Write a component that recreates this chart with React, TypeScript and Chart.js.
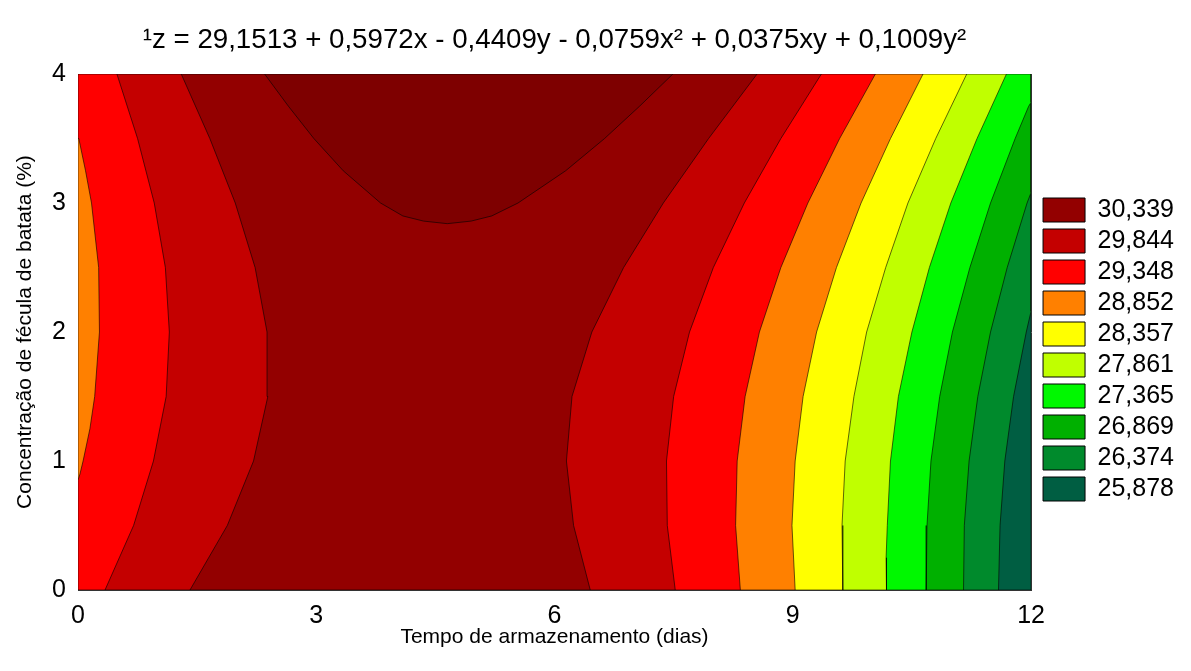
import React, { useEffect, useRef } from 'react';
import { Chart, registerables } from 'chart.js';

Chart.register(...registerables);

const FONT = 'Arial, "Liberation Sans", sans-serif';

const xTicks = [0, 3, 6, 9, 12];
const yTicks = [0, 1, 2, 3, 4];

const titleText = '¹z = 29,1513 + 0,5972x - 0,4409y - 0,0759x² + 0,0375xy + 0,1009y²';
const xTitle = 'Tempo de armazenamento (dias)';
const yTitle = 'Concentração de fécula de batata (%)';

// contour levels (legend) and the colour of the band just below each level
const levelValues = [30.339, 29.844, 29.348, 28.852, 28.357, 27.861, 27.365, 26.869, 26.374, 25.878];
const levelColors = ['#930000', '#C40000', '#FF0000', '#FF8000', '#FFFF00', '#C0FF00', '#00F800', '#00B000', '#008A2C', '#005E42'];
const topBandColor = '#7E0000';

// regions where z is above each level as [x (dias), y (%)]
const above30339 = [[2.35, 4], [2.65, 3.75], [2.97, 3.5], [3.34, 3.25], [3.81, 3.0], [4.09, 2.9], [4.35, 2.86], [4.65, 2.84], [4.95, 2.86], [5.21, 2.9], [5.54, 3.0], [6.14, 3.25], [6.63, 3.5], [7.07, 3.75], [7.49, 4], [2.35, 4]];
const above29844 = [[1.41, 0], [1.88, 0.5], [2.21, 1], [2.39, 1.5], [2.38, 2], [2.23, 2.5], [1.98, 3], [1.66, 3.5], [1.30, 4], [8.55, 4], [7.94, 3.5], [7.37, 3], [6.87, 2.5], [6.47, 2], [6.22, 1.5], [6.15, 1], [6.24, 0.5], [6.45, 0], [1.41, 0]];
const above29348 = [[0.34, 0], [0.70, 0.5], [0.95, 1], [1.11, 1.5], [1.15, 2], [1.10, 2.5], [0.96, 3], [0.75, 3.5], [0.49, 4], [9.36, 4], [8.85, 3.5], [8.39, 3], [8.00, 2.5], [7.70, 2], [7.50, 1.5], [7.41, 1], [7.42, 0.5], [7.52, 0], [0.34, 0]];
const above28852 = [[0, 0], [0, 0.85], [0.025, 0.9], [0.064, 1], [0.15, 1.25], [0.21, 1.5], [0.27, 2], [0.26, 2.5], [0.17, 3], [0.095, 3.25], [0.01, 3.5], [0, 3.51], [0, 4], [10.04, 4], [9.59, 3.5], [9.19, 3], [8.85, 2.5], [8.58, 2], [8.40, 1.5], [8.30, 1], [8.28, 0.5], [8.34, 0], [0, 0]];
const above28357 = [[0, 0], [0, 4], [10.64, 4], [10.23, 3.5], [9.86, 3], [9.55, 2.5], [9.30, 2], [9.13, 1.5], [9.03, 1], [8.99, 0.5], [9.03, 0], [0, 0]];
const above27861 = [[0, 0], [0, 4], [11.19, 4], [10.80, 3.5], [10.45, 3], [10.17, 2.5], [9.93, 2], [9.77, 1.5], [9.66, 1], [9.62, 0.5], [9.63, 0], [0, 0]];
const above27365 = [[0, 0], [0, 4], [11.69, 4], [11.32, 3.5], [10.99, 3], [10.72, 2.5], [10.50, 2], [10.33, 1.5], [10.23, 1], [10.19, 0.5], [10.175, 0.25], [10.18, 0], [0, 0]];
const above26869 = [[0, 0], [0, 4], [12, 4], [12, 3.78], [11.97, 3.75], [11.80, 3.5], [11.49, 3], [11.23, 2.5], [11.01, 2], [10.85, 1.5], [10.74, 1], [10.69, 0.5], [10.68, 0], [0, 0]];
const above26374 = [[0, 0], [0, 4], [12, 4], [12, 3.08], [11.95, 3], [11.70, 2.5], [11.49, 2], [11.33, 1.5], [11.22, 1], [11.16, 0.5], [11.15, 0], [0, 0]];
const above25878 = [[0, 0], [0, 4], [12, 4], [12, 2.16], [11.94, 2], [11.78, 1.5], [11.67, 1], [11.61, 0.5], [11.59, 0], [0, 0]];
const plotFrame = [[0, 0], [12, 0], [12, 4], [0, 4], [0, 0]];

const formatLevel = (v: number) => v.toFixed(3).replace('.', ',');

export default function App() {
  const ref = useRef<HTMLCanvasElement>(null);

  useEffect(() => {
    if (!ref.current) return;
    Chart.defaults.font.family = FONT;

    // first dataset is painted last (on top)
    const regions = [
      { pts: above30339, color: topBandColor },
      { pts: above29844, color: levelColors[0] },
      { pts: above29348, color: levelColors[1] },
      { pts: above28852, color: levelColors[2] },
      { pts: above28357, color: levelColors[3] },
      { pts: above27861, color: levelColors[4] },
      { pts: above27365, color: levelColors[5] },
      { pts: above26869, color: levelColors[6] },
      { pts: above26374, color: levelColors[7] },
      { pts: above25878, color: levelColors[8] },
      { pts: plotFrame, color: levelColors[9] },
    ];

    const frameColor = '#333333';

    const chart = new Chart(ref.current, {
      type: 'scatter',
      data: {
        datasets: regions.map((r) => ({
          data: r.pts.map(([x, y]) => ({ x, y })),
          showLine: true,
          fill: 'shape',
          backgroundColor: r.color,
          borderColor: 'rgba(0,0,0,0.75)',
          borderWidth: 0.8,
          pointRadius: 0,
          pointHoverRadius: 0,
          tension: 0,
        })),
      },
      options: {
        animation: false,
        responsive: false,
        events: [],
        layout: { padding: { left: 0, right: 7, top: 0, bottom: 0 } },
        scales: {
          x: {
            type: 'linear',
            position: 'bottom',
            min: 0,
            max: 12,
            z: 1,
            afterBuildTicks: (s: any) => { s.ticks = xTicks.map((v) => ({ value: v })); },
            afterFit: (s: any) => { s.height = 81; },
            grid: { display: false, drawTicks: false },
            border: { display: true, color: frameColor, width: 1 },
            ticks: { color: '#000', font: { size: 25, family: FONT }, padding: 11.5, maxRotation: 0 },
            title: { display: true, text: xTitle, color: '#000', font: { size: 21, family: FONT }, padding: { top: 0, bottom: 21 } },
          },
          x2: {
            type: 'linear',
            position: 'top',
            display: true,
            z: 1,
            afterFit: (s: any) => { s.height = 0; },
            grid: { display: false, drawTicks: false },
            border: { display: true, color: frameColor, width: 1 },
            ticks: { display: false },
          },
          y: {
            type: 'linear',
            position: 'left',
            min: 0,
            max: 4,
            z: 1,
            afterBuildTicks: (s: any) => { s.ticks = yTicks.map((v) => ({ value: v })); },
            afterFit: (s: any) => { s.width = 78; },
            grid: { display: false, drawTicks: false },
            border: { display: true, color: frameColor, width: 1 },
            ticks: { color: '#000', font: { size: 25, family: FONT }, padding: 12 },
            title: { display: true, text: yTitle, color: '#000', font: { size: 21, family: FONT }, padding: { top: 13, bottom: 0 } },
          },
          y2: {
            type: 'linear',
            position: 'right',
            display: true,
            z: 1,
            afterFit: (s: any) => { s.width = 6; },
            grid: { display: false, drawTicks: false },
            border: { display: true, color: frameColor, width: 1 },
            ticks: { display: false },
          },
        },
        plugins: {
          tooltip: { enabled: false },
          title: {
            display: true,
            text: titleText,
            fullSize: false,
            color: '#000',
            font: { size: 27.7, weight: 'normal', family: FONT },
            padding: { top: 23.4, bottom: 17.4 },
          },
          legend: {
            display: true,
            position: 'right',
            align: 'center',
            title: { display: true, text: ' ', font: { size: 10 }, padding: { top: 0, bottom: 16 } },
            labels: {
              boxWidth: 42,
              boxHeight: 24,
              padding: 6,
              color: '#000',
              font: { size: 25, family: FONT },
              generateLabels: () =>
                levelValues.map((v, i) => ({
                  text: formatLevel(v),
                  fillStyle: levelColors[i],
                  strokeStyle: '#000',
                  fontColor: '#000',
                  lineWidth: 1,
                  hidden: false,
                  index: i,
                })),
            },
          },
        },
      } as any,
    });

    return () => chart.destroy();
  }, []);

  return (
    <div style={{ position: 'absolute', left: 0, top: 0, width: 1191, height: 671, background: '#fff' }}>
      <canvas ref={ref} width={1191} height={671} style={{ display: 'block' }} />
    </div>
  );
}
